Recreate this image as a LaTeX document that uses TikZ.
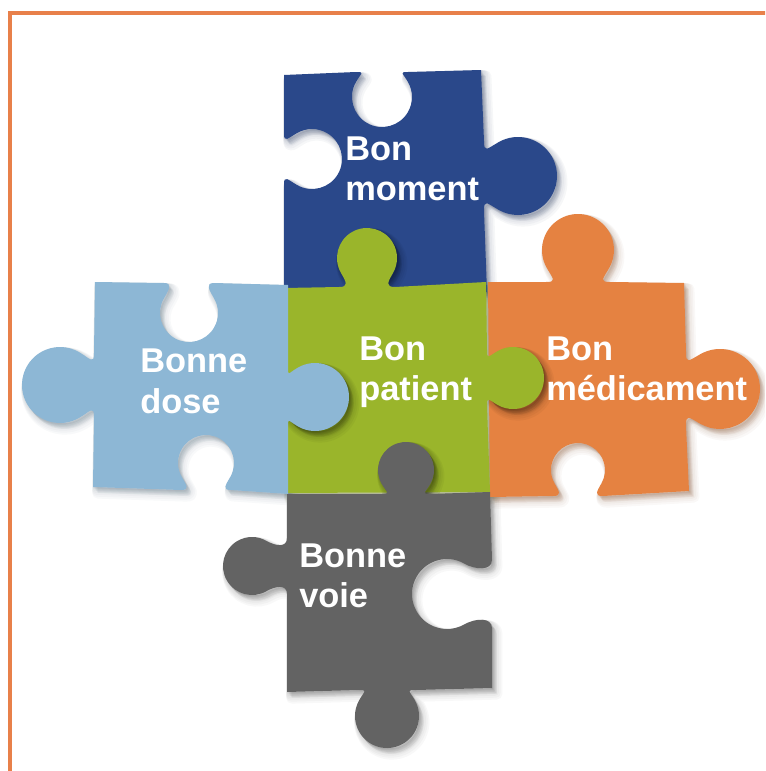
\documentclass[tikz,border=0pt]{standalone}
\usepackage{fontspec}
\setmainfont{Liberation Sans}
\definecolor{cblue}{HTML}{2A488A}
\definecolor{clight}{HTML}{8DB7D5}
\definecolor{cgreen}{HTML}{9AB52B}
\definecolor{corange}{HTML}{E58241}
\definecolor{cgray}{HTML}{636363}
\definecolor{cframe}{HTML}{E8804A}
% bump on an edge: #1,#2 mid point on edge, #3 direction of travel, #4 +1 tab / -1 notch,
% #5 distance edge-centre, #6 radius, #7 half waist width, #8 fillet, #9 join angle
\newcommand\bump[9]{-- ({#1-(#7+#8)*cos(#3)},{#2-(#7+#8)*sin(#3)})
 .. controls ({#1-(#7)*cos(#3)},{#2-(#7)*sin(#3)})
 and ({#1+(#4)*(#5)*cos(#3-90)+(#6)*cos(#3+180-(#4)*(#9))+(#4)*0.35*(#6)*sin(#3+180-(#4)*(#9))},{#2+(#4)*(#5)*sin(#3-90)+(#6)*sin(#3+180-(#4)*(#9))-(#4)*0.35*(#6)*cos(#3+180-(#4)*(#9))})
 .. ({#1+(#4)*(#5)*cos(#3-90)+(#6)*cos(#3+180-(#4)*(#9))},{#2+(#4)*(#5)*sin(#3-90)+(#6)*sin(#3+180-(#4)*(#9))})
 arc[start angle={#3+180-(#4)*(#9)}, end angle={#3+180+(#4)*(180+#9)}, radius=#6]
 .. controls ({#1+(#4)*(#5)*cos(#3-90)+(#6)*cos(#3+180+(#4)*(180+#9))-(#4)*0.35*(#6)*sin(#3+180+(#4)*(180+#9))},{#2+(#4)*(#5)*sin(#3-90)+(#6)*sin(#3+180+(#4)*(180+#9))+(#4)*0.35*(#6)*cos(#3+180+(#4)*(180+#9))})
 and ({#1+(#7)*cos(#3)},{#2+(#7)*sin(#3)}) .. ({#1+(#7+#8)*cos(#3)},{#2+(#7+#8)*sin(#3)})}
\def\pBlue{(284,75) \bump{382}{72}{0}{-1}{25}{30}{17}{9}{30} -- (481,70) \bump{484}{176}{90}{1}{34}{39}{23}{12}{30} -- (487,292) -- (284,292) \bump{284}{159}{270}{-1}{28}{30}{16}{9}{30} -- cycle}
\def\pOrange{(488,282) \bump{578}{282}{0}{1}{32}{36}{21}{11}{30} -- (684,283) \bump{686}{389}{90}{1}{34}{40}{25}{12}{30} -- (689,491) \bump{578}{496}{180}{-1}{26}{27}{16}{9}{30} -- (490,497) -- cycle}
\def\pGreen{(284,288) \bump{367}{287}{0}{1}{29}{30}{18}{10}{30} -- (486,282) \bump{487}{378}{90}{1}{26}{31}{18}{10}{30} -- (490,492) -- (285,493) -- cycle}
\def\pLight{(95,282) \bump{189}{283}{0}{-1}{30}{29}{16}{9}{30} -- (288,285) \bump{288}{397}{90}{1}{27}{34}{20}{10}{30} -- (288,494) \bump{206}{490}{180}{-1}{27}{28}{16}{9}{30} -- (93,487) \bump{94}{385}{270}{1}{34}{38}{20}{12}{30} -- cycle}
\def\pGray{(287,494) \bump{406}{494}{0}{1}{24}{28}{15}{9}{30} -- (490,492) \bump{492}{594}{90}{-1}{45}{35}{23}{11}{30} -- (492,688) \bump{387}{690}{180}{1}{26}{32}{19}{10}{30} -- (287,692) \bump{287}{566}{270}{1}{35}{29}{18}{10}{30} -- cycle}
\tikzset{
  lbl/.style={text=white, font=\fontsize{25.8}{31}\selectfont\bfseries, anchor=base west, inner sep=0pt},
  piece/.style={fill=#1},
  shadowlayer/.style={fill opacity=0.06, draw opacity=0.035, line join=round}
}
\newcommand\softshadow[2]{%
  \foreach \k in {1,...,6}{%
    \path[shift={(0.8*\k,\k)}, shadowlayer, fill=#1, draw=#1, line width={1.4*\k}] #2;}}
\begin{document}
\begin{tikzpicture}[x=0.75pt, y=0.75pt, yscale=-1]
\useasboundingbox (0,0) rectangle (765,771);
\clip (0,0) rectangle (765,771);
\fill[white] (0,0) rectangle (765,771);
\draw[cframe, line width=3pt] (10,13) rectangle (800,800);
% shadows of all pieces
\softshadow{cblue!60!black}{\pBlue}
\softshadow{corange!55!black}{\pOrange}
\softshadow{cgreen!55!black}{\pGreen}
\softshadow{clight!55!black}{\pLight}
\softshadow{cgray!70!black}{\pGray}
% pieces, with the shadows of tabs that lie on a neighbour
\path[piece=cblue] \pBlue;
\path[piece=corange] \pOrange;
\softshadow{black}{(367,258) circle[radius=30]}
\softshadow{black}{(513,378) circle[radius=31]}
\path[piece=cgreen] \pGreen;
\softshadow{black}{(315,397) circle[radius=34]}
\path[piece=clight] \pLight;
\softshadow{black}{(406,470) circle[radius=28]}
\path[piece=cgray] \pGray;
% labels
\node[lbl] (mom1) at (345,160) {Bon};
\node[lbl] (mom2) at (345,200) {moment};
\node[lbl] (dos1) at (140,372) {Bonne};
\node[lbl] (dos2) at (140,413) {dose};
\node[lbl] (pat1) at (359,360) {Bon};
\node[lbl] (pat2) at (359,400) {patient};
\node[lbl] (med1) at (546,360) {Bon};
\node[lbl] (med2) at (546,400) {médicament};
\node[lbl] (voi1) at (299,567) {Bonne};
\node[lbl] (voi2) at (299,607) {voie};
\end{tikzpicture}
\end{document}
